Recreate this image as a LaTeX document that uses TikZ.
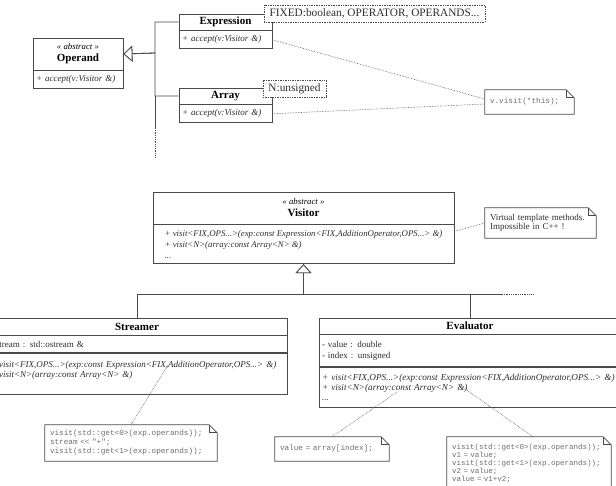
\documentclass[tikz,border=0pt]{standalone}
\usepackage{fontspec}
\setmainfont{Liberation Serif}
\setmonofont{Liberation Mono}
\usetikzlibrary{positioning, arrows.meta}

\definecolor{boxgray}{HTML}{4A4A4A}
\definecolor{txtgray}{HTML}{2E2E2E}
\definecolor{codegray}{HTML}{6E6E6E}
\definecolor{dotgray}{HTML}{555555}

\newcommand{\stereo}{{\itshape\fontsize{8.8}{12}\selectfont « abstract »}}

\tikzset{
  cls/.style={draw=boxgray, line width=0.8pt, fill=white, inner xsep=3pt, inner ysep=0pt},
  clstitle/.style={cls, align=center, text=black, font=\fontsize{11}{12}\selectfont},
  clsbody/.style={cls, align=left, text=txtgray, font=\fontsize{9}{10}\selectfont\itshape},
  clsattr/.style={cls, align=left, text=txtgray, font=\fontsize{9}{11}\selectfont},
  tparam/.style={draw=boxgray, densely dotted, line width=0.7pt, fill=white, inner xsep=5.5pt,
    inner ysep=0pt, minimum height=17, text=txtgray, font=\fontsize{11.3}{13}\selectfont},
  note/.style={fill=white, inner xsep=5pt, inner ysep=0pt, align=left, text=codegray,
    font=\ttfamily\fontsize{7.7}{9}\selectfont},
  notebox/.style={draw=boxgray, line width=0.8pt},
  noteline/.style={draw=dotgray, densely dotted, line width=0.6pt},
  link/.style={draw=boxgray, line width=0.8pt},
  gen/.style={link, -{Triangle[open, length=9pt, width=16pt, fill=white]}},
}

\begin{document}
\begin{tikzpicture}[x=1pt, y=-1pt]
  \useasboundingbox (0,0) rectangle (616,486);
  \clip (0,0) rectangle (616,486);
  \fill[white] (0,0) rectangle (616,486);

  % operand hierarchy
  \node[clstitle, minimum width=90, minimum height=32] (operand) at (78,54) {\stereo\\\textbf{Operand}};
  \node[clsbody, text width=84, minimum height=18, below=0pt of operand] (operand-ops) {+ accept(v:Visitor \&)};

  \node[clstitle, minimum width=93, minimum height=16] (expression) at (225.5,22) {\textbf{Expression}};
  \node[clsbody, text width=87, minimum height=18, below=0pt of expression] (expression-ops) {+ accept(v:Visitor \&)};

  \node[clstitle, minimum width=93, minimum height=16] (array) at (225.5,96) {\textbf{Array}};
  \node[clsbody, text width=87, minimum height=18, below=0pt of array] (array-ops) {+ accept(v:Visitor \&)};

  \coordinate (opjoin) at (155,53);
  \coordinate (opmore) at (155,128);
  \coordinate (opend)  at (155,158);

  \draw[gen] (expression.west) -| (opjoin) -- (operand.east);
  \draw[gen] (array.west) -| (opjoin) -- (operand.east);
  \draw[link] (array.west -| opjoin) -- (opmore);
  \draw[link, densely dotted] (opmore) -- (opend);

  \node[tparam] (fixed) at (374.5,13.5) {FIXED:boolean, OPERATOR, OPERANDS...};
  \node[tparam] (nparam) at (294.5,88.5) {N:unsigned};

  % visitor hierarchy
  \node[clstitle, minimum width=301, minimum height=32] (visitor) at (303.5,208) {\stereo\\\textbf{Visitor}};
  \node[clsbody, minimum width=301, minimum height=39, below=0pt of visitor,
    font=\fontsize{8.8}{11}\selectfont\itshape] (visitor-ops)
    {+ visit<FIX,OPS...>(exp:const Expression<FIX,AdditionOperator,OPS...> \&)\\
     + visit<N>(array:const Array<N> \&)\\
     ...};

  \node[clstitle, minimum width=300, minimum height=17] (streamer) at (137,326.5) {\textbf{Streamer}};
  \node[clsattr, text width=294, minimum height=17, below=0pt of streamer] (streamer-attr)
    {- stream : std::ostream \&};
  \node[clsbody, text width=294, minimum height=41, below=0pt of streamer-attr] (streamer-ops)
    {+ visit<FIX,OPS...>(exp:const Expression<FIX,AdditionOperator,OPS...> \&)\\
     + visit<N>(array:const Array<N> \&)\\\mbox{}};

  \node[clstitle, minimum width=302, minimum height=16] (evaluator) at (470,326) {\textbf{Evaluator}};
  \node[clsattr, text width=296, minimum height=32, below=0pt of evaluator] (evaluator-attr)
    {- value : double\\- index : unsigned};
  \node[clsbody, text width=296, minimum height=40, below=0pt of evaluator-attr,
    font=\fontsize{9.2}{10}\selectfont\itshape] (evaluator-ops)
    {+ visit<FIX,OPS...>(exp:const Expression<FIX,AdditionOperator,OPS...> \&)\\
     + visit<N>(array:const Array<N> \&)\\
     ...};

  \coordinate (vijoin) at (303.5,294);
  \coordinate (vimore) at (502,294);
  \coordinate (viend)  at (533,294);

  \draw[gen] (streamer.north) |- (vijoin) -- (visitor-ops.south);
  \draw[gen] (evaluator.north) |- (vijoin) -- (visitor-ops.south);
  \draw[link] (evaluator.north |- vijoin) -- (vimore);
  \draw[link, densely dotted] (vimore) -- (viend);

  % notes
  \node[note, text width=79, minimum height=24] (visitnote) at (529.5,102) {v.visit(*this);};
  \node[note, text width=101, minimum height=30, text=txtgray,
    font=\fontsize{9}{9.5}\selectfont] (visitornote) at (540.5,223)
    {Virtual template methods.\\Impossible in C++ !};
  \node[note, text width=162, minimum height=36] (streamnote) at (131,443)
    {visit(std::get<0>(exp.operands));\\stream <{}< "+";\\visit(std::get<1>(exp.operands));};
  \node[note, text width=104, minimum height=24] (valuenote) at (332,449) {value = array[index];};
  \node[note, text width=154, minimum height=52, font=\ttfamily\fontsize{7.5}{8}\selectfont] (evalnote) at (529,463)
    {visit(std::get<0>(exp.operands));\\v1 = value;\\visit(std::get<1>(exp.operands));\\v2 = value;\\value = v1+v2;};

  \foreach \nt in {visitnote, visitornote, streamnote, valuenote, evalnote} {
    \draw[notebox] (\nt.north west) -- ([xshift=-8pt]\nt.north east) -- ([yshift=-8pt]\nt.north east)
      -- (\nt.south east) -- (\nt.south west) -- cycle;
    \draw[notebox] ([xshift=-8pt]\nt.north east) |- ([yshift=-8pt]\nt.north east);
  }

  \coordinate (stfix)   at (168,365);
  \coordinate (evconst) at (397,392);
  \coordinate (evfix)   at (458,384);

  \draw[noteline] (expression-ops.east) -- ([yshift=3pt]visitnote.west);
  \draw[noteline] (array-ops.east) -- ([yshift=-2pt]visitnote.west);
  \draw[noteline] ([yshift=-7pt]visitor-ops.north east) -- (visitornote.west);
  \draw[noteline] (stfix) -- (streamnote.north);
  \draw[noteline] (evconst) -- (valuenote.north);
  \draw[noteline] (evfix) -- ([xshift=4pt]evalnote.north);
\end{tikzpicture}
\end{document}
